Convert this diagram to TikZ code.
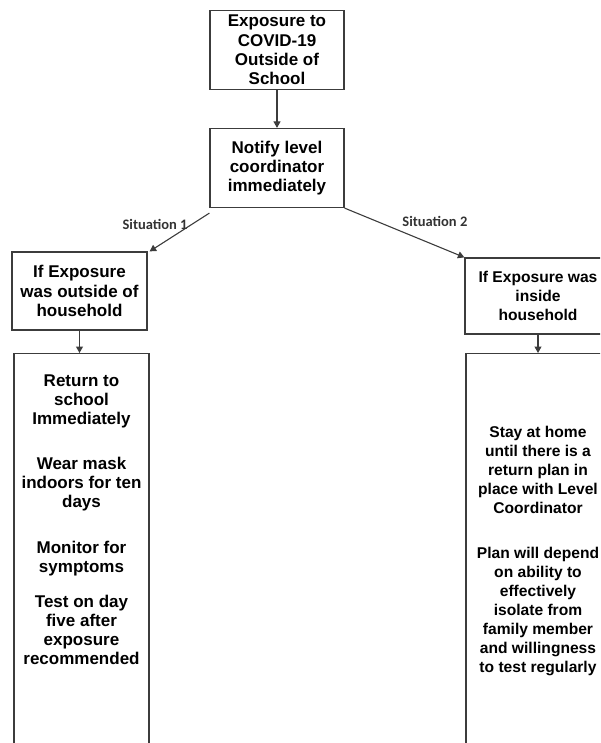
\documentclass[tikz,border=0pt]{standalone}
\usepackage{fontspec}
\setmainfont{Liberation Sans}
\newfontfamily\sitfont{Carlito}
\usetikzlibrary{arrows.meta,positioning}
\definecolor{L}{RGB}{60,60,60}
\tikzstyle{box} = [rectangle, draw=L, line width=1.2pt, align=center,
inner sep=1pt, font=\bfseries\fontsize{17}{19.3}\selectfont]
\tikzstyle{tallbox} = [rectangle, draw=L, line width=1.2pt, anchor=north,
minimum height=420pt]
\tikzstyle{plantext} = [align=center, inner sep=0pt, anchor=north,
font=\bfseries\fontsize{17}{19}\selectfont]
\tikzstyle{narrow} = [font=\bfseries\fontsize{15.6}{19}\selectfont]
\tikzstyle{situation} = [font=\sitfont\bfseries\fontsize{14.5}{16}\selectfont, text=black!80]
\tikzstyle{arrow} = [->, draw=L, line width=1.1pt]

\begin{document}
\begin{tikzpicture}[>={Triangle[length=6.5pt,width=7pt]}, x=1pt, y=-1pt]
    \useasboundingbox (0,0) rectangle (600,743);
    \clip (0,0) rectangle (600,743);

    \node[box, minimum width=134pt, minimum height=79pt] (expo) at (277,50)
        {Exposure to\\COVID-19\\Outside of\\School};
    \node[box, minimum width=134pt, minimum height=79pt] (notify) at (277,168)
        {Notify level\\coordinator\\immediately};
    \node[box, minimum width=135pt, minimum height=78pt] (outside) at (79.5,291)
        {If Exposure\\was outside of\\household};
    \node[box, narrow, minimum width=146pt, minimum height=76pt] (inside) at (538,296)
        {If Exposure was\\inside\\household};

    % tall boxes run past the page edge
    \node[tallbox, minimum width=135pt] (planL) at (81.5,353) {};
    \node[tallbox, minimum width=144pt] (planR) at (538,353) {};
    \node[plantext, below=22pt of planL.north] (stepsL)
        {Return to\\school\\Immediately\\[26pt]
         Wear mask\\indoors for ten\\days\\[27pt]
         Monitor for\\symptoms\\[16pt]
         Test on day\\five after\\exposure\\recommended};
    \node[plantext, narrow, below=73pt of planR.north] (stepsR)
        {Stay at home\\until there is a\\return plan in\\place with Level\\Coordinator\\[26pt]
         Plan will depend\\on ability to\\effectively\\isolate from\\family member\\and willingness\\to test regularly};

    \draw [arrow] (expo) -- (notify);
    \draw [arrow] ([yshift=-5pt]notify.south west) -- node[situation, pos=0.3, left] {Situation 1} ([xshift=2pt]outside.north east);
    \draw [arrow] (notify.south east) -- node[situation, pos=0.45, above right] {Situation 2} (inside.north west);
    \draw [arrow] (outside) -- (outside |- planL.north);
    \draw [arrow] (inside) -- (inside |- planR.north);
\end{tikzpicture}
\end{document}
